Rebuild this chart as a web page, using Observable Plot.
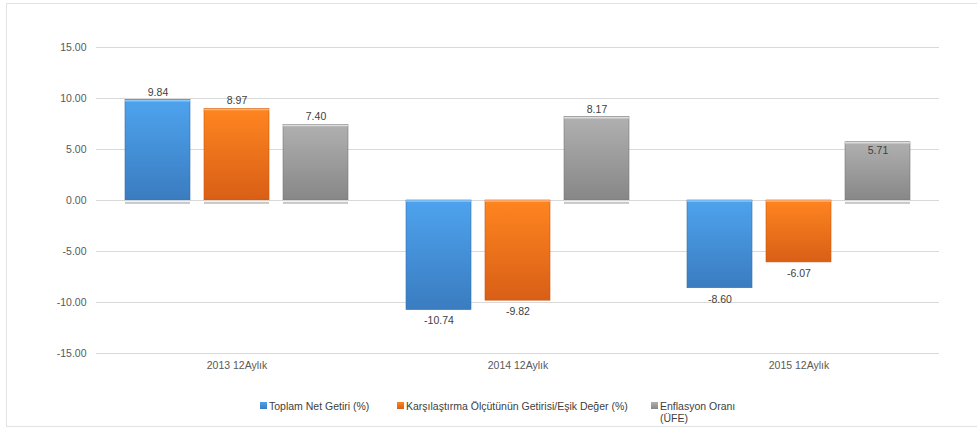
<!DOCTYPE html>
<html>
<head>
<meta charset="utf-8">
<script src="https://cdn.jsdelivr.net/npm/d3@7"></script>
<script src="https://cdn.jsdelivr.net/npm/@observablehq/plot@0.6"></script>
<style>
  html, body { margin: 0; padding: 0; background: #fff; }
  body { width: 977px; height: 430px; position: relative; overflow: hidden; font-family: "Liberation Sans", Arial, sans-serif; }
  #frame { position: absolute; left: 6px; top: 3px; width: 1000px; height: 424px; border: 1px solid #e3e3e3; box-sizing: border-box; }
  #chart { position: absolute; left: 0; top: 0; }
  #legend { position: absolute; top: 400px; left: 0; width: 977px; font-size: 10.5px; color: #404040; }
  .item { position: absolute; display: flex; align-items: flex-start; line-height: 12px; }
  .sw { width: 7px; height: 7px; margin-right: 2px; margin-top: 2px; flex: none; }
</style>
</head>
<body>
<div id="frame"></div>
<div id="chart"></div>
<div id="legend"></div>
<script>
const categories = ["2013 12Aylık", "2014 12Aylık", "2015 12Aylık"];
const series = ["Toplam Net Getiri (%)", "Karşılaştırma Ölçütünün Getirisi/Eşik Değer (%)", "Enflasyon Oranı (ÜFE)"];
const toplamNetGetiri = [9.84, -10.74, -8.60];
const karsilastirma = [8.97, -9.82, -6.07];
const enflasyon = [7.40, 8.17, 5.71];
const yTicks = [-15, -10, -5, 0, 5, 10, 15];

const gradients = [
  {id: "gBlue", top: "#4ea3ee", bottom: "#3a7cc0", edge: "#3671ad", cap: "#8cc6f7"},
  {id: "gOrange", top: "#ff8520", bottom: "#d85f16", edge: "#c95812", cap: "#ffb37a"},
  {id: "gGray", top: "#b0b0b0", bottom: "#878787", edge: "#7a7a7a", cap: "#dcdcdc"}
];

const valuesBySeries = [toplamNetGetiri, karsilastirma, enflasyon];
const data = [];
categories.forEach((c, i) => {
  series.forEach((s, j) => {
    data.push({category: c, series: s, value: valuesBySeries[j][i], si: j});
  });
});

// label placement: inside the bar for the last gray bar (as in reference)
const insideLabel = d => d.category === categories[2] && d.si === 2;

const font = "Liberation Sans, Arial, sans-serif";
const pos = data.filter(d => d.value >= 0);

const chart = Plot.plot({
  width: 977,
  height: 383,
  marginLeft: 95,
  marginRight: 37,
  marginTop: 47,
  marginBottom: 30,
  style: {fontFamily: font, fontSize: "10.5px", color: "#595959", background: "transparent"},
  fx: {domain: categories, padding: 0, label: null, axis: "bottom", tickSize: 0, tickPadding: 8},
  x: {domain: series, paddingInner: 0.18, paddingOuter: 0.368, axis: null},
  y: {domain: [-15, 15], ticks: yTicks, tickFormat: d => d.toFixed(2), label: null, tickSize: 0, tickPadding: 10, grid: false},
  color: {domain: series, range: gradients.map(g => `url(#${g.id})`)},
  marks: [
    Plot.gridY(yTicks, {stroke: "#d9d9d9", strokeOpacity: 1, strokeWidth: 1}),
    Plot.axisY({ticks: yTicks, tickFormat: d => d.toFixed(2), tickSize: 0, tickPadding: 10, fill: "#595959", fontSize: 10.5}),
    Plot.barY(data, {fx: "category", x: "series", y: "value", fill: "series",
      stroke: d => gradients[d.si].edge, strokeWidth: 0.6}),
    // light cap at the top edge of each bar
    Plot.tickY(data, {fx: "category", x: "series", y: d => Math.max(d.value, 0), stroke: d => gradients[d.si].cap, strokeWidth: 1.5, dy: 0.5}),
    // light "floor" line at the base of positive bars
    Plot.tickY(pos, {fx: "category", x: "series", y: 0, stroke: "#f2f2f2", strokeWidth: 2, dy: 1}),
    Plot.tickY(pos, {fx: "category", x: "series", y: 0, stroke: "#9a9a9a", strokeWidth: 1, dy: 2.5}),
    Plot.text(data.filter(d => !insideLabel(d) && d.value >= 0), {fx: "category", x: "series", y: "value", text: d => d.value.toFixed(2), dy: -8, fill: "#404040", fontSize: 10.5}),
    Plot.text(data.filter(d => !insideLabel(d) && d.value < 0), {fx: "category", x: "series", y: "value", text: d => d.value.toFixed(2), dy: 11, fill: "#404040", fontSize: 10.5}),
    Plot.text(data.filter(insideLabel), {fx: "category", x: "series", y: "value", text: d => d.value.toFixed(2), dy: 8, fill: "#404040", fontSize: 10.5})
  ]
});

// gradient definitions
const ns = "http://www.w3.org/2000/svg";
const defs = document.createElementNS(ns, "defs");
gradients.forEach(g => {
  const lg = document.createElementNS(ns, "linearGradient");
  lg.setAttribute("id", g.id);
  lg.setAttribute("x1", "0"); lg.setAttribute("y1", "0");
  lg.setAttribute("x2", "0"); lg.setAttribute("y2", "1");
  [[0, g.top], [1, g.bottom]].forEach(([o, c]) => {
    const st = document.createElementNS(ns, "stop");
    st.setAttribute("offset", o);
    st.setAttribute("stop-color", c);
    lg.appendChild(st);
  });
  defs.appendChild(lg);
});
chart.insertBefore(defs, chart.firstChild);
document.getElementById("chart").appendChild(chart);

// legend
const legend = document.getElementById("legend");
const legendLeft = [260, 397, 651];
series.forEach((s, j) => {
  const item = document.createElement("div");
  item.className = "item";
  item.style.left = legendLeft[j] + "px";
  if (j === 2) item.style.width = "100px";
  const sw = document.createElement("div");
  sw.className = "sw";
  sw.style.background = `linear-gradient(${gradients[j].top}, ${gradients[j].bottom})`;
  const t = document.createElement("span");
  t.textContent = s;
  item.appendChild(sw);
  item.appendChild(t);
  legend.appendChild(item);
});
</script>
</body>
</html>
